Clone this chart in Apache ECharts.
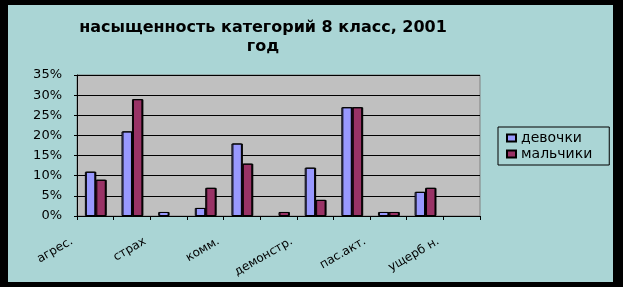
<!DOCTYPE html>
<html><head><meta charset="utf-8">
<script src="https://cdn.jsdelivr.net/npm/echarts@6/dist/echarts.min.js"></script>
<style>html,body{margin:0;padding:0;background:#000;}#c{position:absolute;left:8px;top:5px;width:605px;height:277px;}</style>
</head><body><div id="c"></div>
<script>
const categories = ['агрес.','','страх','','комм.','','демонстр.','','пас.акт.','','ущерб н.'];
const girls = [11,21,1,2,18,null,12,27,1,6,null];
const boys = [9,29,null,7,13,1,4,27,1,7,null];
const yTicks = [0,5,10,15,20,25,30,35];
const seriesNames = ['девочки','мальчики'];

const chart = echarts.init(document.getElementById('c'));
const font = 'DejaVu Sans, sans-serif';
chart.setOption({
  backgroundColor: '#aad5d5',
  animation: false,
  title: {
    text: 'насыщенность категорий 8 класс, 2001\nгод',
    left: 250, top: 8, textAlign: 'center',
    textStyle: {fontFamily: font, fontWeight: 'bold', fontSize: 16, lineHeight: 19, color: '#000'}
  },
  legend: {
    orient: 'vertical', left: 490, top: 122,
    data: seriesNames,
    icon: 'rect', itemWidth: 9, itemHeight: 7, itemGap: 2,
    borderColor: '#000', borderWidth: 1, padding: [4, 17, 4, 8],
    textStyle: {fontFamily: font, fontSize: 14, color: '#000'}
  },
  grid: {left: 69, right: 133, top: 70, bottom: 66, show: true, backgroundColor: '#c0c0c0', borderColor: '#808080', borderWidth: 1},
  xAxis: {
    type: 'category', data: categories,
    axisLine: {lineStyle: {color: '#000', width: 1}},
    axisTick: {show: true, alignWithLabel: false, interval: 0, length: 4, lineStyle: {color: '#000'}},
    axisLabel: {interval: 0, rotate: 30, margin: 11, padding: [0, 27, 0, 0], fontFamily: font, fontSize: 12, color: '#000'}
  },
  yAxis: {
    type: 'value', min: yTicks[0], max: yTicks[yTicks.length-1], interval: 5,
    axisLine: {show: true, lineStyle: {color: '#000', width: 1}},
    axisTick: {show: true, length: 3, lineStyle: {color: '#000'}},
    splitLine: {lineStyle: {color: '#000', width: 1}},
    axisLabel: {formatter: v => v + '%', margin: 15, fontFamily: font, fontSize: 13, color: '#000'}
  },
  series: [
    {name: seriesNames[0], type: 'bar', data: girls, barGap: '0%', barCategoryGap: '43%',
     itemStyle: {color: '#9999ff', borderColor: '#000', borderWidth: 1, shadowColor: '#000', shadowOffsetX: 1, shadowOffsetY: 0}},
    {name: seriesNames[1], type: 'bar', data: boys, barGap: '0%', barCategoryGap: '43%',
     itemStyle: {color: '#993366', borderColor: '#000', borderWidth: 1, shadowColor: '#000', shadowOffsetX: 1, shadowOffsetY: 0}}
  ]
});
</script></body></html>
